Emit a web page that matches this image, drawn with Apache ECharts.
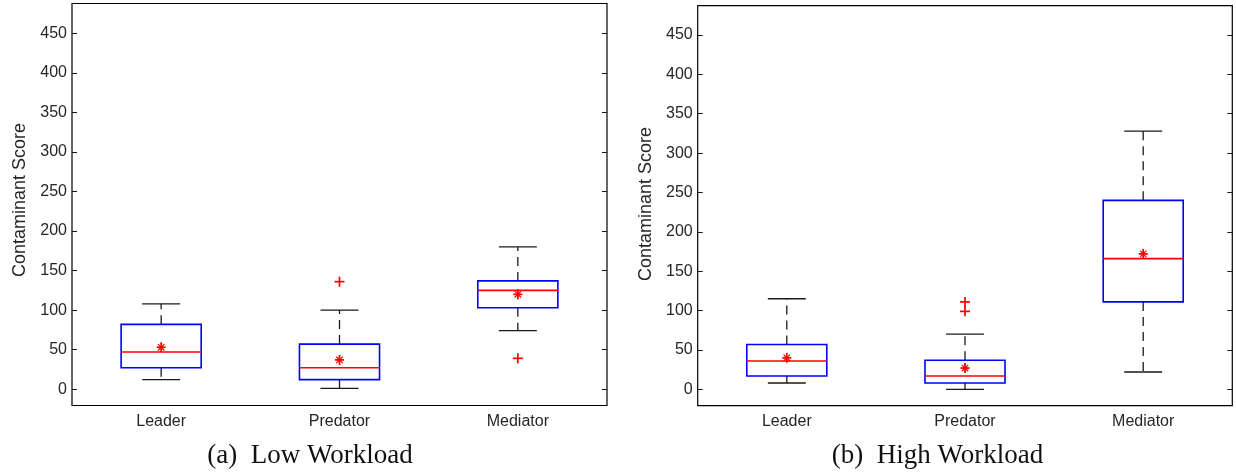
<!DOCTYPE html>
<html>
<head>
<meta charset="utf-8">
<script src="https://cdn.jsdelivr.net/npm/echarts@6/dist/echarts.min.js"></script>
<style>
  html, body { margin: 0; padding: 0; background: #fff; }
  #chart { width: 1236px; height: 476px; }
</style>
</head>
<body>
<div id="chart"></div>
<script>
// Roles shown on each panel
const categories = ['Leader', 'Predator', 'Mediator'];
const yTicks = [0, 50, 100, 150, 200, 250, 300, 350, 400, 450];

// (a) Low workload: whisker ends, quartiles, medians, means, outliers
const lowLower = [12, 1, 74];
const lowQ1 = [27, 12, 103];
const lowMedian = [47, 27, 125];
const lowQ3 = [82, 57, 137];
const lowUpper = [108, 100, 180];
const lowMean = [53, 37, 120];
const lowOutliers = [['Predator', 136], ['Mediator', 39]];

// (b) High workload
const highLower = [8, 0, 22];
const highQ1 = [17, 8, 111];
const highMedian = [36, 17, 166];
const highQ3 = [57, 37, 240];
const highUpper = [115, 70, 328];
const highMean = [40, 27, 172];
const highOutliers = [['Predator', 111], ['Predator', 99]];

const BLUE = '#0000ff';
const RED = '#ff0000';
const INK = '#1a1a1a';
const TEXT = '#262626';

function boxRows(lower, q1, med, q3, upper) {
  return categories.map((c, i) => [i, lower[i], q1[i], med[i], q3[i], upper[i]]);
}
function pointRows(values) {
  return values.map((v, i) => [i, v]);
}
function outlierRows(list) {
  return list.map(([c, v]) => [categories.indexOf(c), v]);
}

// Box, median and dashed whiskers with caps
function renderBox(params, api) {
  const x = api.value(0);
  const pLow = api.coord([x, api.value(1)]);
  const pQ1 = api.coord([x, api.value(2)]);
  const pMed = api.coord([x, api.value(3)]);
  const pQ3 = api.coord([x, api.value(4)]);
  const pUp = api.coord([x, api.value(5)]);
  const band = api.size([1, 0])[0];
  const bw = band * 0.449;
  const cw = band * 0.213;
  const cx = pMed[0];
  const whisker = { stroke: INK, lineWidth: 1.3, lineDash: [9, 6] };
  const cap = { stroke: INK, lineWidth: 1.3 };
  return {
    type: 'group',
    children: [
      { type: 'line', shape: { x1: cx, y1: pQ3[1], x2: cx, y2: pUp[1] }, style: whisker },
      { type: 'line', shape: { x1: cx, y1: pQ1[1], x2: cx, y2: pLow[1] }, style: whisker },
      { type: 'line', shape: { x1: cx - cw / 2, y1: pUp[1], x2: cx + cw / 2, y2: pUp[1] }, style: cap },
      { type: 'line', shape: { x1: cx - cw / 2, y1: pLow[1], x2: cx + cw / 2, y2: pLow[1] }, style: cap },
      { type: 'rect', shape: { x: cx - bw / 2, y: pQ3[1], width: bw, height: pQ1[1] - pQ3[1] },
        style: { fill: 'none', stroke: BLUE, lineWidth: 1.6 } },
      { type: 'line', shape: { x1: cx - bw / 2, y1: pMed[1], x2: cx + bw / 2, y2: pMed[1] },
        style: { stroke: RED, lineWidth: 1.6 } }
    ]
  };
}

// Mean marker: asterisk
function renderMean(params, api) {
  const p = api.coord([api.value(0), api.value(1)]);
  const s = { stroke: RED, lineWidth: 1.8 };
  const r = 4.5, d = 3.2;
  return {
    type: 'group',
    children: [
      { type: 'line', shape: { x1: p[0] - r, y1: p[1], x2: p[0] + r, y2: p[1] }, style: s },
      { type: 'line', shape: { x1: p[0], y1: p[1] - r - 0.5, x2: p[0], y2: p[1] + r + 0.5 }, style: s },
      { type: 'line', shape: { x1: p[0] - d, y1: p[1] - d, x2: p[0] + d, y2: p[1] + d }, style: { stroke: RED, lineWidth: 1.2 } },
      { type: 'line', shape: { x1: p[0] - d, y1: p[1] + d, x2: p[0] + d, y2: p[1] - d }, style: { stroke: RED, lineWidth: 1.2 } }
    ]
  };
}

// Outlier marker: plus
function renderOutlier(params, api) {
  const p = api.coord([api.value(0), api.value(1)]);
  const s = { stroke: RED, lineWidth: 1.7 };
  const r = 5;
  return {
    type: 'group',
    children: [
      { type: 'line', shape: { x1: p[0] - r, y1: p[1], x2: p[0] + r, y2: p[1] }, style: s },
      { type: 'line', shape: { x1: p[0], y1: p[1] - r, x2: p[0], y2: p[1] + r }, style: s }
    ]
  };
}

const grids = [
  { left: 72, top: 3.5, width: 535, height: 402 },
  { left: 697.7, top: 5.7, width: 534.6, height: 400 }
];
const yRanges = [[-20.7, 488], [-20.8, 487.2]];

function xAxisFor(g) {
  return {
    type: 'category', gridIndex: g, data: categories, boundaryGap: true,
    axisLine: { show: false }, axisTick: { show: false },
    axisLabel: { color: TEXT, fontFamily: 'Liberation Sans', fontSize: 16, margin: 8 },
    splitLine: { show: false }
  };
}
function yAxisFor(g, side, labels) {
  return {
    type: 'value', gridIndex: g, position: side,
    min: yRanges[g][0], max: yRanges[g][1],
    axisLine: { show: false },
    axisTick: { show: true, inside: true, length: 5, customValues: yTicks,
      lineStyle: { color: INK, width: 1 } },
    axisLabel: { show: labels, customValues: yTicks, color: TEXT,
      fontFamily: 'Liberation Sans', fontSize: 16, margin: 5 },
    splitLine: { show: false }
  };
}

function panelSeries(g, lower, q1, med, q3, upper, mean, outliers) {
  const axes = { xAxisIndex: g, yAxisIndex: g * 2 };
  return [
    Object.assign({ type: 'custom', renderItem: renderBox, data: boxRows(lower, q1, med, q3, upper),
      encode: { x: 0, y: [1, 2, 3, 4, 5] }, silent: true }, axes),
    Object.assign({ type: 'custom', renderItem: renderOutlier, data: outlierRows(outliers),
      encode: { x: 0, y: 1 }, silent: true }, axes),
    Object.assign({ type: 'custom', renderItem: renderMean, data: pointRows(mean),
      encode: { x: 0, y: 1 }, silent: true }, axes)
  ];
}

const chart = echarts.init(document.getElementById('chart'), null, { renderer: 'canvas' });
chart.setOption({
  animation: false,
  backgroundColor: '#ffffff',
  grid: grids.map(g => Object.assign({ show: true, borderColor: '#000', borderWidth: 1.2,
    backgroundColor: 'transparent' }, g)),
  xAxis: [xAxisFor(0), xAxisFor(1)],
  yAxis: [yAxisFor(0, 'left', true), yAxisFor(0, 'right', false),
          yAxisFor(1, 'left', true), yAxisFor(1, 'right', false)],
  series: [].concat(
    panelSeries(0, lowLower, lowQ1, lowMedian, lowQ3, lowUpper, lowMean, lowOutliers),
    panelSeries(1, highLower, highQ1, highMedian, highQ3, highUpper, highMean, highOutliers)
  ),
  graphic: [
    { type: 'text', x: 20, y: 200, rotation: Math.PI / 2,
      style: { text: 'Contaminant Score', font: '18px "Liberation Sans"', fill: TEXT,
        textAlign: 'center', textVerticalAlign: 'middle' } },
    { type: 'text', x: 646, y: 204, rotation: Math.PI / 2,
      style: { text: 'Contaminant Score', font: '18px "Liberation Sans"', fill: TEXT,
        textAlign: 'center', textVerticalAlign: 'middle' } },
    { type: 'text', x: 310, y: 456,
      style: { text: '(a)  Low Workload', font: '27px "Liberation Serif"', fill: '#111',
        textAlign: 'center', textVerticalAlign: 'middle' } },
    { type: 'text', x: 937.5, y: 456,
      style: { text: '(b)  High Workload', font: '27px "Liberation Serif"', fill: '#111',
        textAlign: 'center', textVerticalAlign: 'middle' } }
  ]
});
</script>
</body>
</html>
